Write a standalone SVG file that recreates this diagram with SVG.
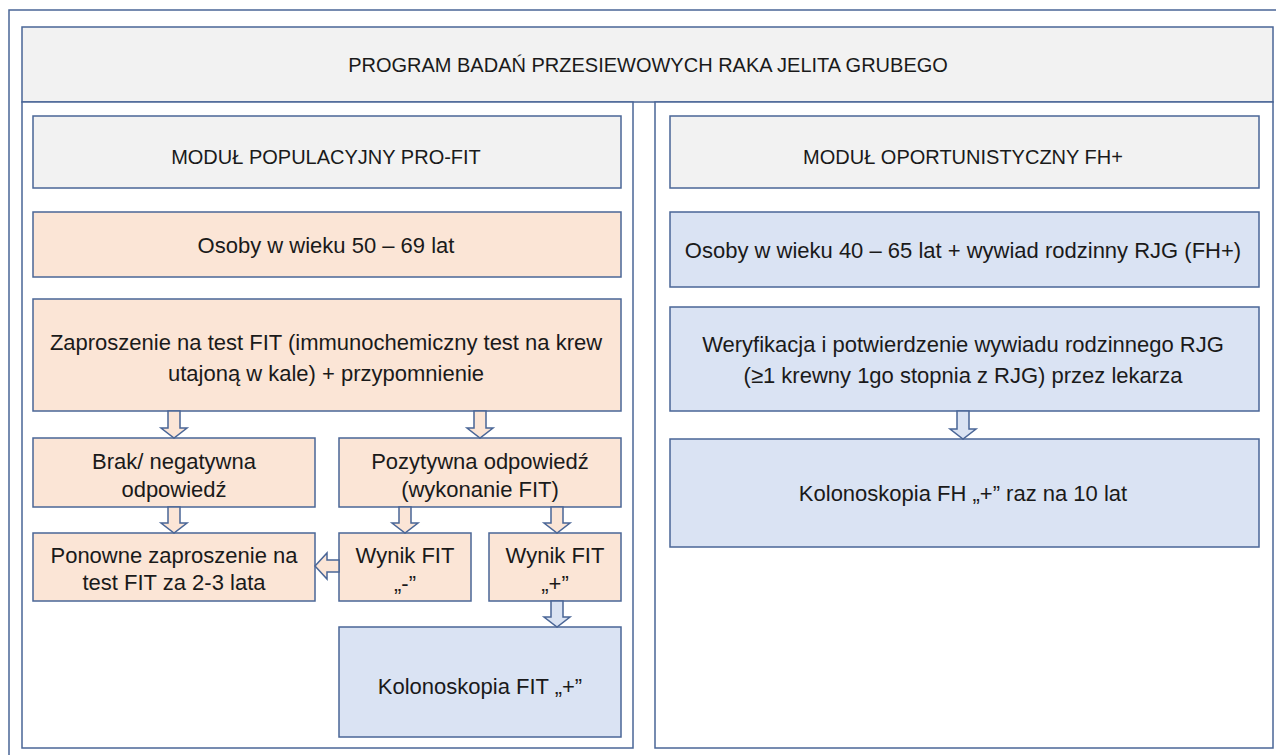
<svg xmlns="http://www.w3.org/2000/svg" width="1276" height="755" viewBox="0 0 1276 755">
<style>
text{font-family:"Liberation Sans",Arial,sans-serif;fill:#1a1a1a;text-anchor:middle;dominant-baseline:central}
.b{stroke:#4a6697;stroke-width:1.5}
.g{fill:#f2f2f2}
.p{fill:#fbe5d6}
.u{fill:#dae3f3}
.f{fill:#ffffff}
.t{font-size:22px}
.h{font-size:20px}
</style>
<rect width="1276" height="755" fill="#ffffff"/>
<g id="frame">
<rect class="b" x="9" y="10" width="1290" height="760" fill="none"/>
</g>
<g id="title">
<rect class="b g" x="22" y="27" width="1251" height="75"/>
<text class="h" x="648" y="65">PROGRAM BADAŃ PRZESIEWOWYCH RAKA JELITA GRUBEGO</text>
</g>
<g id="panel-left"><rect class="b f" x="22" y="102" width="611" height="646"/></g>
<g id="panel-right"><rect class="b f" x="655" y="102" width="618" height="646"/></g>
<g id="mod-pop">
<rect class="b g" x="33" y="116" width="588" height="72"/>
<text class="h" x="326" y="157">MODUŁ POPULACYJNY PRO-FIT</text>
</g>
<g id="osoby-50">
<rect class="b p" x="33" y="212" width="588" height="65"/>
<text class="t" x="326" y="245">Osoby w wieku 50 – 69 lat</text>
</g>
<g id="zaproszenie">
<rect class="b p" x="33" y="299" width="588" height="112"/>
<text class="t" x="326" y="342">Zaproszenie na test FIT (immunochemiczny test na krew</text>
<text class="t" x="326" y="373">utajoną w kale) + przypomnienie</text>
</g>
<g id="brak">
<rect class="b p" x="33" y="438" width="282" height="69"/>
<text class="t" x="174" y="461">Brak/ negatywna</text>
<text class="t" x="174" y="489">odpowiedź</text>
</g>
<g id="pozytywna">
<rect class="b p" x="339" y="438" width="282" height="69"/>
<text class="t" x="480" y="461">Pozytywna odpowiedź</text>
<text class="t" x="480" y="489">(wykonanie FIT)</text>
</g>
<g id="ponowne">
<rect class="b p" x="33" y="533" width="282" height="68"/>
<text class="t" x="174" y="555">Ponowne zaproszenie na</text>
<text class="t" x="174" y="582">test FIT za 2-3 lata</text>
</g>
<g id="wynik-neg">
<rect class="b p" x="339" y="533" width="132" height="68"/>
<text class="t" x="405" y="555">Wynik FIT</text>
<text class="t" x="405" y="583">„-”</text>
</g>
<g id="wynik-pos">
<rect class="b p" x="489" y="533" width="132" height="68"/>
<text class="t" x="555" y="555">Wynik FIT</text>
<text class="t" x="555" y="583">„+”</text>
</g>
<g id="kolonoskopia-fit">
<rect class="b u" x="339" y="627" width="282" height="110"/>
<text class="t" x="480" y="686">Kolonoskopia FIT „+”</text>
</g>
<g id="mod-opor">
<rect class="b g" x="670" y="116" width="589" height="72"/>
<text class="h" x="963" y="157">MODUŁ OPORTUNISTYCZNY FH+</text>
</g>
<g id="osoby-40">
<rect class="b u" x="670" y="212" width="589" height="75"/>
<text class="t" x="963" y="250">Osoby w wieku 40 – 65 lat + wywiad rodzinny RJG (FH+)</text>
</g>
<g id="weryfikacja">
<rect class="b u" x="670" y="307" width="589" height="104"/>
<text class="t" x="963" y="344">Weryfikacja i potwierdzenie wywiadu rodzinnego RJG</text>
<text class="t" x="963" y="375">(≥1 krewny 1go stopnia z RJG) przez lekarza</text>
</g>
<g id="kolonoskopia-fh">
<rect class="b u" x="670" y="439" width="589" height="108"/>
<text class="t" x="963" y="493">Kolonoskopia FH „+” raz na 10 lat</text>
</g>
<g id="connectors">
<path class="b p" d="M168 411H180V428H187L174 438L161 428H168Z"/>
<path class="b p" d="M474 411H486V428H493L480 438L467 428H474Z"/>
<path class="b p" d="M168 507H180V523H187L174 533L161 523H168Z"/>
<path class="b p" d="M399 507H411V523H418L405 533L392 523H399Z"/>
<path class="b p" d="M551 507H563V523H570L557 533L544 523H551Z"/>
<path class="b p" d="M339 560H327V553L315 566L327 579V572H339Z"/>
<path class="b u" d="M551 601H563V617H570L557 627L544 617H551Z"/>
<path class="b u" d="M957 411H969V429H976L963 439L950 429H957Z"/>
</g>
</svg>
